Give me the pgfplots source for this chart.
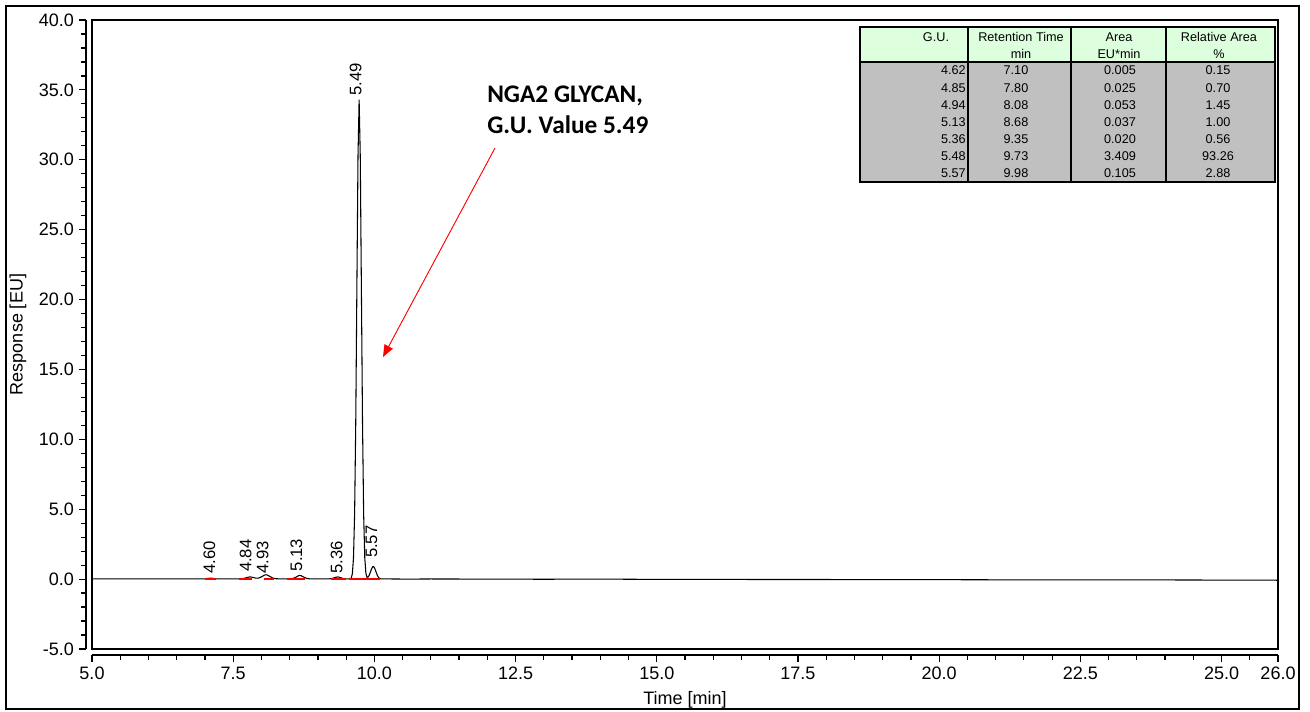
\documentclass[border=0pt]{standalone}
\usepackage{pgfplots}
\pgfplotsset{compat=1.18}
\usepackage{fontspec}
\setmainfont{Liberation Sans}
\newfontfamily\calibri{Carlito}
\usetikzlibrary{arrows.meta}
\definecolor{hdrgreen}{HTML}{DDFFDD}
\definecolor{bodygray}{HTML}{C0C0C0}

\begin{document}
\begin{tikzpicture}
\useasboundingbox (0,0) rectangle (982.5pt,534pt);
\begin{axis}[
    at={(69pt,47.25pt)}, anchor=south west,
    scale only axis, width=889.5pt, height=471.75pt,
    xmin=5, xmax=26, ymin=-5, ymax=40,
    axis lines*=left,
    axis line style={draw=none},
    xtick={5,7.5,10,12.5,15,17.5,20,22.5,25,26},
    minor xtick={5.5,6,6.5,7,8,8.5,9,9.5,10.5,11,11.5,12,13,13.5,14,14.5,15.5,16,16.5,17,18,18.5,19,19.5,20.5,21,21.5,22,23,23.5,24,24.5,25.5},
    ytick={-5,0,5,10,15,20,25,30,35,40},
    minor y tick num=4,
    tick align=outside,
    major tick length=5pt, minor tick length=3.5pt,
    every tick/.append style={line width=0.9pt, black},
    every x tick/.append style={yshift=-4.5pt},
    every y tick/.append style={xshift=-4.5pt},
    xticklabel shift=5pt, yticklabel shift=5pt,
    tick label style={font=\fontsize{13.5}{16}\selectfont},
    /pgf/number format/assume math mode=true,
    /pgf/number format/fixed, /pgf/number format/fixed zerofill,
    /pgf/number format/precision=1,
    xlabel={Time [min]}, ylabel={Response [EU]},
    label style={font=\fontsize{13.5}{16}\selectfont},
    xlabel style={at={(axis description cs:0.5,-0.081)}, anchor=center},
    ylabel style={at={(axis description cs:-0.0624,0.5)}, anchor=center},
    clip=false,
]
% chromatogram trace
\addplot[black, line width=0.8pt] coordinates {
 (5.0,0.02)(5.5,0.01)(6.0,0.02)(6.5,0.01)(6.9,0.02)
 (7.00,0.02)(7.05,0.05)(7.10,0.07)(7.15,0.05)(7.20,0.02)(7.30,0.01)(7.40,0.02)(7.50,0.01)(7.60,0.02)
 (7.65,0.03)(7.70,0.06)(7.75,0.12)(7.80,0.16)(7.85,0.12)(7.90,0.07)(7.95,0.07)
 (8.00,0.16)(8.05,0.28)(8.08,0.31)(8.10,0.30)(8.15,0.19)(8.20,0.08)(8.25,0.03)(8.30,0.02)(8.40,0.01)(8.50,0.02)
 (8.55,0.04)(8.60,0.11)(8.65,0.23)(8.68,0.26)(8.70,0.25)(8.75,0.14)(8.80,0.05)(8.85,0.02)(8.95,0.01)(9.05,0.02)(9.15,0.01)(9.20,0.02)
 (9.25,0.04)(9.30,0.11)(9.35,0.16)(9.40,0.11)(9.45,0.04)(9.50,0.02)(9.55,0.01)
 (9.57,0.02)(9.59,0.08)(9.61,0.38)(9.63,1.51)(9.65,4.64)(9.67,11.14)(9.69,20.80)(9.71,30.27)(9.73,34.30)
 (9.75,30.27)(9.77,20.80)(9.79,11.14)(9.81,4.64)(9.83,1.51)(9.85,0.40)(9.87,0.13)(9.89,0.15)
 (9.91,0.29)(9.93,0.51)(9.95,0.73)(9.97,0.88)(9.98,0.90)(9.99,0.88)(10.01,0.73)(10.03,0.51)(10.05,0.29)(10.07,0.14)(10.09,0.06)(10.11,0.02)(10.15,0.01)
 (10.3,0.01)(10.6,0.0)(11,0.01)(12,0.0)(13,-0.01)(14,0.0)(15,-0.02)(16,-0.02)(17,-0.03)(18,-0.03)(19,-0.04)(20,-0.04)(21,-0.05)(22,-0.05)(23,-0.06)(24,-0.06)(25,-0.07)(26,-0.08)
};
% integration baselines
\addplot[red, line width=1.3pt, unbounded coords=jump] coordinates {
 (7.0,0)(7.2,0)(7.2,nan)
 (7.6,0)(7.83,0)(7.83,nan)
 (8.05,0)(8.22,0)(8.22,nan)
 (8.45,0)(8.78,0)(8.78,nan)
 (9.24,0)(9.5,0)(9.5,nan)
 (9.55,0)(10.1,0)
};
% plot frame and the offset axis lines
\draw[line width=1.2pt] (rel axis cs:0,0) rectangle (rel axis cs:1,1);
\draw[line width=1.2pt] ([yshift=-4.5pt]rel axis cs:0,0) -- ([yshift=-4.5pt]rel axis cs:1,0);
\draw[line width=1.2pt] ([xshift=-4.5pt]rel axis cs:0,0) -- ([xshift=-4.5pt]rel axis cs:0,1);
% peak labels
\begin{scope}[every node/.style={rotate=90, anchor=west, inner sep=1pt, font=\fontsize{12.5}{14}\selectfont}]
\node at (axis cs:7.08,0.3) {4.60};
\node at (axis cs:7.72,0.4) {4.84};
\node at (axis cs:8.02,0.3) {4.93};
\node at (axis cs:8.62,0.45) {5.13};
\node at (axis cs:9.33,0.3) {5.36};
\node at (axis cs:9.67,34.5) {5.49};
\node at (axis cs:9.95,1.4) {5.57};
\end{scope}
\end{axis}

\begin{scope}[x=0.75pt, y=-0.75pt, yshift=534pt]
% outer frame
\draw[line width=1.5pt] (6,6) rectangle (1299,709);
% annotation
\node[anchor=north west, align=left, inner sep=0pt,
      font=\calibri\bfseries\fontsize{19}{23.25}\selectfont] at (487,86) {NGA2 GLYCAN,\\G.U. Value 5.49};
\draw[red, line width=0.7pt, -{Triangle[length=9pt,width=7pt]}] (495,148) -- (383,357);
% results table
\fill[hdrgreen] (860,27) rectangle (1275,62);
\fill[bodygray] (860,62) rectangle (1275,182);
\draw[line width=1.3pt] (860,27) rectangle (1275,182);
\draw[line width=1.3pt] (860,62) -- (1275,62);
\draw[line width=1.3pt] (968,27) -- (968,182) (1071,27) -- (1071,182) (1166,27) -- (1166,182);
\begin{scope}[every node/.style={inner sep=0pt, font=\fontsize{9.5}{11}\selectfont}]
\node at (936,37) {G.U.};
\node at (1021,37) {Retention Time};
\node at (1021,54) {min};
\node at (1119,37) {Area};
\node at (1119,54) {EU*min};
\node at (1219,37) {Relative Area};
\node at (1219,54) {\%};
\foreach \gu/\rt/\ar/\ra [count=\i from 0] in {4.62/7.10/0.005/0.15, 4.85/7.80/0.025/0.70, 4.94/8.08/0.053/1.45, 5.13/8.68/0.037/1.00, 5.36/9.35/0.020/0.56, 5.48/9.73/3.409/93.26, 5.57/9.98/0.105/2.88} {
  \node[anchor=east] at (966,70.6+17.1*\i) {\gu};
  \node at (1016,70.6+17.1*\i) {\rt};
  \node at (1120,70.6+17.1*\i) {\ar};
  \node at (1218,70.6+17.1*\i) {\ra};
}
\end{scope}
\end{scope}
\end{tikzpicture}
\end{document}
